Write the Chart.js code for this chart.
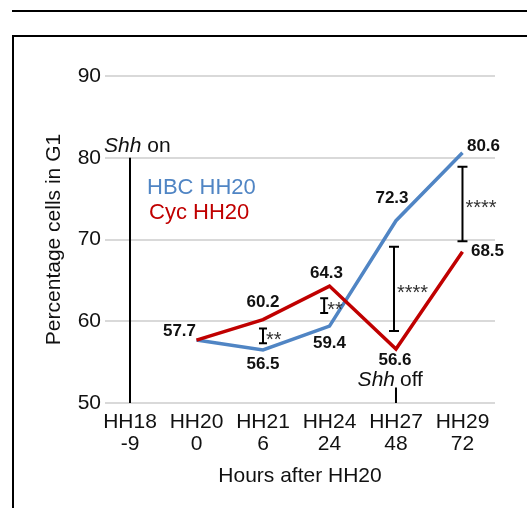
<!DOCTYPE html>
<html>
<head>
<meta charset="utf-8">
<script src="https://cdn.jsdelivr.net/npm/chart.js@4/dist/chart.umd.min.js"></script>
<style>
  html, body { margin: 0; padding: 0; background: #fff; }
  #wrap { position: relative; width: 527px; height: 508px; overflow: hidden; }
  #topline { position: absolute; left: 12px; top: 10px; width: 600px; border-top: 2px solid #000; }
  #frame { position: absolute; left: 12px; top: 35px; width: 600px; height: 600px; border-top: 2px solid #000; border-left: 2px solid #000; }
  #chart { position: absolute; left: 0; top: 0; }
</style>
</head>
<body>
<div id="wrap">
  <div id="topline"></div>
  <div id="frame"></div>
  <canvas id="chart" width="527" height="508"></canvas>
</div>
<script>
// stages and hours after HH20
const stageLabels = ['HH18', 'HH20', 'HH21', 'HH24', 'HH27', 'HH29'];
const hourLabels = ['-9', '0', '6', '24', '48', '72'];
// % cells in G1, null where not measured
const hbcValues = [null, 57.7, 56.5, 59.4, 72.3, 80.6];
const cycValues = [null, 57.7, 60.2, 64.3, 56.6, 68.5];
// significance bars: stage index, low, high, stars
const sigX = [2, 2.92, 3.97, 5];
const sigLow = [57.3, 61.0, 58.8, 69.8];
const sigHigh = [59.1, 62.8, 69.1, 78.9];
const sigStars = ['**', '**', '****', '****'];

const FONT = "'Liberation Sans', Arial, sans-serif";
const BLUE = '#5085c4';
const RED = '#c00000';

function toPoints(values) {
  let pts = [];
  for (let i = 0; i < values.length; i++) {
    if (values[i] !== null) pts.push({x: i, y: values[i]});
  }
  return pts;
}

// where each value label sits relative to its point (px)
const hbcLabelOffset = [null, [-17, -9], [0, 14], [0, 17], [-4, -22], [21, -7]];
const cycLabelOffset = [null, null, [0, -17], [-3, -13], [-1, 11], [25, 0]];

const annotations = {
  id: 'annotations',
  afterDatasetsDraw(chart) {
    const ctx = chart.ctx;
    const x = chart.scales.x;
    const y = chart.scales.y;
    ctx.save();

    // Shh on / Shh off markers
    ctx.strokeStyle = '#000';
    ctx.lineWidth = 2;
    ctx.beginPath();
    ctx.moveTo(x.getPixelForValue(0), y.getPixelForValue(80));
    ctx.lineTo(x.getPixelForValue(0), y.getPixelForValue(50));
    ctx.moveTo(x.getPixelForValue(4), y.getPixelForValue(51.9));
    ctx.lineTo(x.getPixelForValue(4), y.getPixelForValue(50));
    ctx.stroke();

    ctx.fillStyle = '#111';
    ctx.textBaseline = 'middle';
    let px = x.getPixelForValue(0) - 26;
    let py = y.getPixelForValue(80) - 12;
    ctx.textAlign = 'left';
    ctx.font = 'italic 21px ' + FONT;
    ctx.fillText('Shh', px, py);
    let w = ctx.measureText('Shh ').width;
    ctx.font = '21px ' + FONT;
    ctx.fillText('on', px + w, py);

    px = x.getPixelForValue(4);
    py = y.getPixelForValue(50) - 23;
    ctx.textAlign = 'right';
    ctx.font = 'italic 21px ' + FONT;
    ctx.fillText('Shh', px - 1, py);
    ctx.textAlign = 'left';
    ctx.font = '21px ' + FONT;
    ctx.fillText('off', px + 4, py);

    // series names
    ctx.font = '22px ' + FONT;
    ctx.fillStyle = BLUE;
    ctx.fillText('HBC HH20', chart.chartArea.left + 42, chart.chartArea.top + 112);
    ctx.fillStyle = RED;
    ctx.fillText('Cyc HH20', chart.chartArea.left + 44, chart.chartArea.top + 137);

    // significance bars
    ctx.strokeStyle = '#000';
    ctx.lineWidth = 2;
    for (let i = 0; i < sigX.length; i++) {
      const bx = x.getPixelForValue(sigX[i]);
      const top = y.getPixelForValue(sigHigh[i]);
      const bot = y.getPixelForValue(sigLow[i]);
      const cap = i < 2 ? 4 : 5;
      ctx.beginPath();
      ctx.moveTo(bx, top); ctx.lineTo(bx, bot);
      ctx.moveTo(bx - cap, top); ctx.lineTo(bx + cap, top);
      ctx.moveTo(bx - cap, bot); ctx.lineTo(bx + cap, bot);
      ctx.stroke();
      ctx.fillStyle = '#333';
      ctx.font = '20px ' + FONT;
      ctx.textAlign = 'left';
      ctx.fillText(sigStars[i], bx + 3, (top + bot) / 2 + 5);
    }

    // value labels
    ctx.font = 'bold 17px ' + FONT;
    ctx.fillStyle = '#111';
    ctx.textAlign = 'center';
    const series = [[hbcValues, hbcLabelOffset], [cycValues, cycLabelOffset]];
    for (const [vals, offs] of series) {
      for (let i = 0; i < vals.length; i++) {
        if (vals[i] === null || offs[i] === null) continue;
        ctx.fillText(vals[i].toFixed(1),
          x.getPixelForValue(i) + offs[i][0],
          y.getPixelForValue(vals[i]) + offs[i][1]);
      }
    }
    ctx.restore();
  }
};

new Chart(document.getElementById('chart'), {
  type: 'line',
  data: {
    datasets: [
      {
        label: 'Cyc HH20',
        data: toPoints(cycValues),
        borderColor: RED,
        borderWidth: 3.5,
        pointRadius: 0,
        tension: 0
      },
      {
        label: 'HBC HH20',
        data: toPoints(hbcValues),
        borderColor: BLUE,
        borderWidth: 3.5,
        pointRadius: 0,
        tension: 0
      }
    ]
  },
  options: {
    responsive: false,
    animation: false,
    layout: { padding: { left: 30, right: 32, top: 76, bottom: 0 } },
    plugins: { legend: { display: false }, tooltip: { enabled: false } },
    scales: {
      x: {
        type: 'linear',
        min: -0.376,
        max: 5.489,
        grid: { display: false },
        border: { display: false },
        afterBuildTicks: (scale) => {
          scale.ticks = stageLabels.map((s, i) => ({value: i}));
        },
        afterFit: (scale) => { scale.height = 105; },
        ticks: {
          autoSkip: false,
          maxRotation: 0,
          padding: 0,
          color: '#111',
          font: { family: FONT, size: 21, lineHeight: 1.05 },
          callback: (v) => [stageLabels[v], hourLabels[v]]
        },
        title: {
          display: true,
          text: 'Hours after HH20',
          color: '#111',
          font: { family: FONT, size: 21 },
          padding: { top: 0, bottom: 19 }
        }
      },
      y: {
        min: 50,
        max: 90,
        ticks: {
          stepSize: 10,
          padding: 4,
          color: '#111',
          font: { family: FONT, size: 21 }
        },
        grid: { color: '#d9d9d9', lineWidth: 2, drawTicks: false },
        border: { display: false },
        afterFit: (scale) => { scale.width = 75; },
        title: {
          display: true,
          text: 'Percentage cells in G1',
          color: '#111',
          font: { family: FONT, size: 21 },
          padding: { top: 12, bottom: 0 }
        }
      }
    }
  },
  plugins: [annotations]
});
</script>
</body>
</html>
